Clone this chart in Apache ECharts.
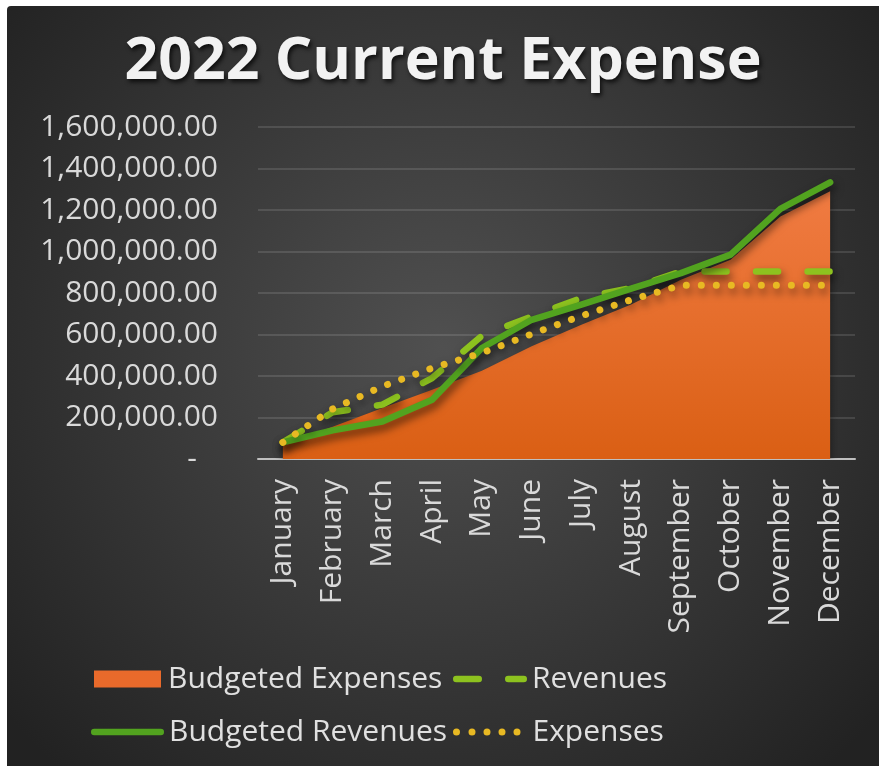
<!DOCTYPE html>
<html>
<head>
<meta charset="utf-8">
<script src="https://cdn.jsdelivr.net/npm/echarts@6/dist/echarts.min.js"></script>
<style>
    html, body { margin: 0; padding: 0; background: #ffffff; }
    #main { position: absolute; left: 7px; top: 6px; width: 872px; height: 760px; border-radius: 4px 0 0 0; overflow: hidden; }
</style>
</head>
<body>
<div id="main"></div>
<script type="text/javascript">
    // 数据
    var months = ['January', 'February', 'March', 'April', 'May', 'June', 'July', 'August', 'September', 'October', 'November', 'December'];
    var budgetedExpenses = [69000, 155000, 246000, 334000, 425000, 543000, 647000, 744000, 864000, 960000, 1169000, 1290000];
    var revenues = [80000, 225000, 262000, 390000, 594000, 687000, 776000, 824000, 904000, 904000, 904000, 904000];
    var budgetedRevenues = [80000, 138000, 181000, 286000, 535000, 671000, 744000, 821000, 896000, 985000, 1205000, 1333000];
    var expenses = [80000, 241000, 350000, 438000, 511000, 602000, 690000, 767000, 837000, 837000, 837000, 837000];

    var fontName = 'Open Sans';
    var textColor = '#d9d9d9';
    var lineShadow = {
        shadowColor: 'rgba(0,0,0,0.6)',
        shadowBlur: 8,
        shadowOffsetX: 2,
        shadowOffsetY: 5
    };

    // 图例图标
    function pill(x0, x1, h) {
        var r = h / 2;
        return 'M' + (x0 + r) + ',0 L' + (x1 - r) + ',0 A' + r + ',' + r + ' 0 0 1 ' + (x1 - r) + ',' + h +
            ' L' + (x0 + r) + ',' + h + ' A' + r + ',' + r + ' 0 0 1 ' + (x0 + r) + ',0 Z ';
    }
    function dot(cx, r) {
        return 'M' + (cx - r) + ',' + r + ' A' + r + ',' + r + ' 0 1 0 ' + (cx + r) + ',' + r +
            ' A' + r + ',' + r + ' 0 1 0 ' + (cx - r) + ',' + r + ' Z ';
    }
    var dashIcon = 'path://' + pill(0, 29, 6.5) + pill(52, 74, 6.5);
    var solidIcon = 'path://' + pill(0, 73, 6.5);
    var dotIcon = 'path://' + dot(3.5, 3.5) + dot(19, 3.5) + dot(34, 3.5) + dot(49, 3.5) + dot(64, 3.5);

    function legendItem(name, icon, left, top, w, h, padLeft) {
        return {
            left: left,
            top: top,
            padding: 0,
            itemWidth: w,
            itemHeight: h,
            textStyle: {fontFamily: fontName, fontSize: 30, color: '#e0e0e0', lineHeight: 36, padding: [0, 0, 0, padLeft]},
            data: [{name: name, icon: icon}]
        };
    }

    var myChart = echarts.init(document.getElementById('main'));

    var option = {
        backgroundColor: {
            type: 'radial', x: 0.5, y: 0.45, r: 0.75,
            colorStops: [
                {offset: 0, color: '#505050'},
                {offset: 1, color: '#222222'}
            ]
        },
        title: {
            text: '2022 Current Expense',
            left: 'center',
            top: 22,
            textStyle: {
                fontFamily: fontName,
                fontSize: 59,
                fontWeight: 'bold',
                color: '#f2f2f2',
                textShadowColor: 'rgba(0,0,0,0.7)',
                textShadowBlur: 4,
                textShadowOffsetX: 2,
                textShadowOffsetY: 3
            }
        },
        grid: {
            left: 251,
            right: 24,
            top: 121,
            bottom: 307
        },
        legend: [
            legendItem('Budgeted Expenses', 'rect', 87, 655, 67, 17, 2),
            legendItem('Revenues', dashIcon, 446, 655, 74, 6.5, 0),
            legendItem('Budgeted Revenues', solidIcon, 84, 708, 73, 6.5, 0),
            legendItem('Expenses', dotIcon, 446, 708, 67.5, 7, 7)
        ],
        xAxis: {
            type: 'category',
            data: months,
            boundaryGap: true,
            axisLine: {lineStyle: {color: '#bfbfbf', width: 2}},
            axisTick: {show: false},
            axisLabel: {
                rotate: 90,
                margin: 20,
                interval: 0,
                fontFamily: fontName,
                fontSize: 30,
                color: textColor
            }
        },
        yAxis: {
            type: 'value',
            min: 0,
            max: 1600000,
            interval: 200000,
            axisLine: {show: false},
            axisTick: {show: false},
            splitLine: {lineStyle: {color: 'rgba(255,255,255,0.16)', width: 1.5}},
            axisLabel: {
                margin: 40,
                fontFamily: fontName,
                fontSize: 30,
                color: textColor,
                formatter: function (v) {
                    if (v === 0) return '{z|-}';
                    return v.toLocaleString('en-US', {minimumFractionDigits: 2, maximumFractionDigits: 2});
                },
                rich: {
                    z: {fontFamily: fontName, fontSize: 30, color: textColor, padding: [0, 21, 0, 0]}
                }
            }
        },
        series: [
            {
                name: 'Budgeted Expenses',
                type: 'line',
                data: budgetedExpenses,
                symbol: 'none',
                itemStyle: {color: '#e96a2b'},
                lineStyle: {width: 0},
                areaStyle: {
                    opacity: 1,
                    color: {
                        type: 'linear', x: 0, y: 0, x2: 0, y2: 1,
                        colorStops: [
                            {offset: 0, color: '#f07b42'},
                            {offset: 1, color: '#da5f14'}
                        ]
                    },
                    shadowColor: 'rgba(0,0,0,0.5)',
                    shadowBlur: 8,
                    shadowOffsetY: 4
                }
            },
            {
                name: 'Revenues',
                type: 'line',
                data: revenues,
                symbol: 'none',
                itemStyle: {color: '#8dc21f'},
                lineStyle: Object.assign({
                    color: '#8dc21f',
                    width: 6.5,
                    type: [22, 29.5],
                    cap: 'round'
                }, lineShadow)
            },
            {
                name: 'Budgeted Revenues',
                type: 'line',
                data: budgetedRevenues,
                symbol: 'none',
                itemStyle: {color: '#52a31f'},
                lineStyle: Object.assign({
                    color: '#52a31f',
                    width: 6.5,
                    cap: 'round',
                    join: 'round'
                }, lineShadow)
            },
            {
                name: 'Expenses',
                type: 'line',
                data: expenses,
                symbol: 'none',
                itemStyle: {color: '#e8b923'},
                lineStyle: Object.assign({
                    color: '#e8b923',
                    width: 7,
                    type: [0.01, 15],
                    cap: 'round'
                }, lineShadow)
            }
        ]
    };

    myChart.setOption(option);
</script>
</body>
</html>
